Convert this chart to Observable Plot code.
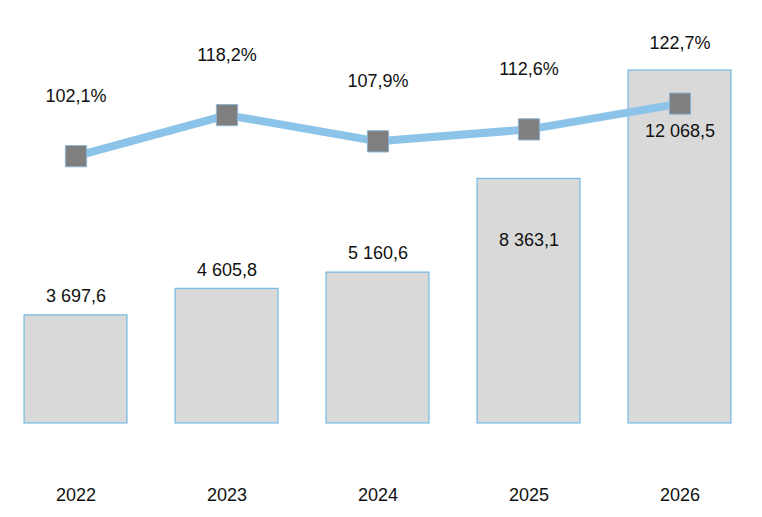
<!DOCTYPE html>
<html>
<head>
<meta charset="utf-8">
<script src="https://cdn.jsdelivr.net/npm/d3@7"></script>
<script src="https://cdn.jsdelivr.net/npm/@observablehq/plot@0.6"></script>
<style>
  html, body { margin: 0; padding: 0; background: #fff; }
  #chart { position: relative; width: 762px; height: 517px; }
  #chart svg { position: absolute; left: 0; top: 0; }
</style>
</head>
<body>
<div id="chart"></div>
<script>
const years = ["2022", "2023", "2024", "2025", "2026"];
const volumes = [3697.6, 4605.8, 5160.6, 8363.1, 12068.5];
const growth = [102.1, 118.2, 107.9, 112.6, 122.7];

const locale = d3.formatLocale({decimal: ",", thousands: " ", grouping: [3], currency: ["", ""]});
const fmtVol = locale.format(",.1f");
const fmtPct = v => locale.format(".1f")(v) + "%";

const data = years.map((y, i) => ({year: y, vol: volumes[i], pct: growth[i], i}));

const W = 762, H = 517;
const font = {fontFamily: "'Liberation Sans', Arial, sans-serif", fontSize: "18px", color: "#111", background: "transparent", overflow: "visible"};
const xOpts = {type: "band", domain: years, paddingInner: 0.32, paddingOuter: 0.145, axis: null};

const bars = Plot.plot({
  width: W, height: H,
  marginTop: 70, marginBottom: 94, marginLeft: 0, marginRight: 8,
  style: font,
  x: xOpts,
  y: {domain: [0, d3.max(volumes)], axis: null},
  marks: [
    Plot.barY(data, {x: "year", y: "vol", fill: "#d9d9d9", stroke: "#5eb2e4", strokeWidth: 1}),
    Plot.text(data.filter(d => d.i < 3), {x: "year", y: "vol", text: d => fmtVol(d.vol), dy: -19, fontSize: 18, fill: "#111"}),
    Plot.text(data.filter(d => d.i >= 3), {x: "year", y: "vol", text: d => fmtVol(d.vol), dy: 61, fontSize: 18, fill: "#111"}),
    Plot.axisX({domain: years, tickSize: 0, tickPadding: 65, fontSize: 18, anchor: "bottom", label: null})
  ]
});

const line = Plot.plot({
  width: W, height: H,
  marginTop: 59, marginBottom: 101, marginLeft: 0, marginRight: 8,
  style: font,
  x: xOpts,
  y: {domain: [0, 140], axis: null},
  marks: [
    Plot.line(data, {x: "year", y: "pct", stroke: "#8cc3e8", strokeWidth: 8, strokeLinejoin: "round"}),
    Plot.dot(data, {x: "year", y: "pct", symbol: "square", r: 12, fill: "#7f7f7f", stroke: "#8fb5d3", strokeWidth: 1}),
    Plot.text(data, {x: "year", y: "pct", text: d => fmtPct(d.pct), dy: -60, fontSize: 18, fill: "#111"})
  ]
});

document.getElementById("chart").append(bars, line);
</script>
</body>
</html>
